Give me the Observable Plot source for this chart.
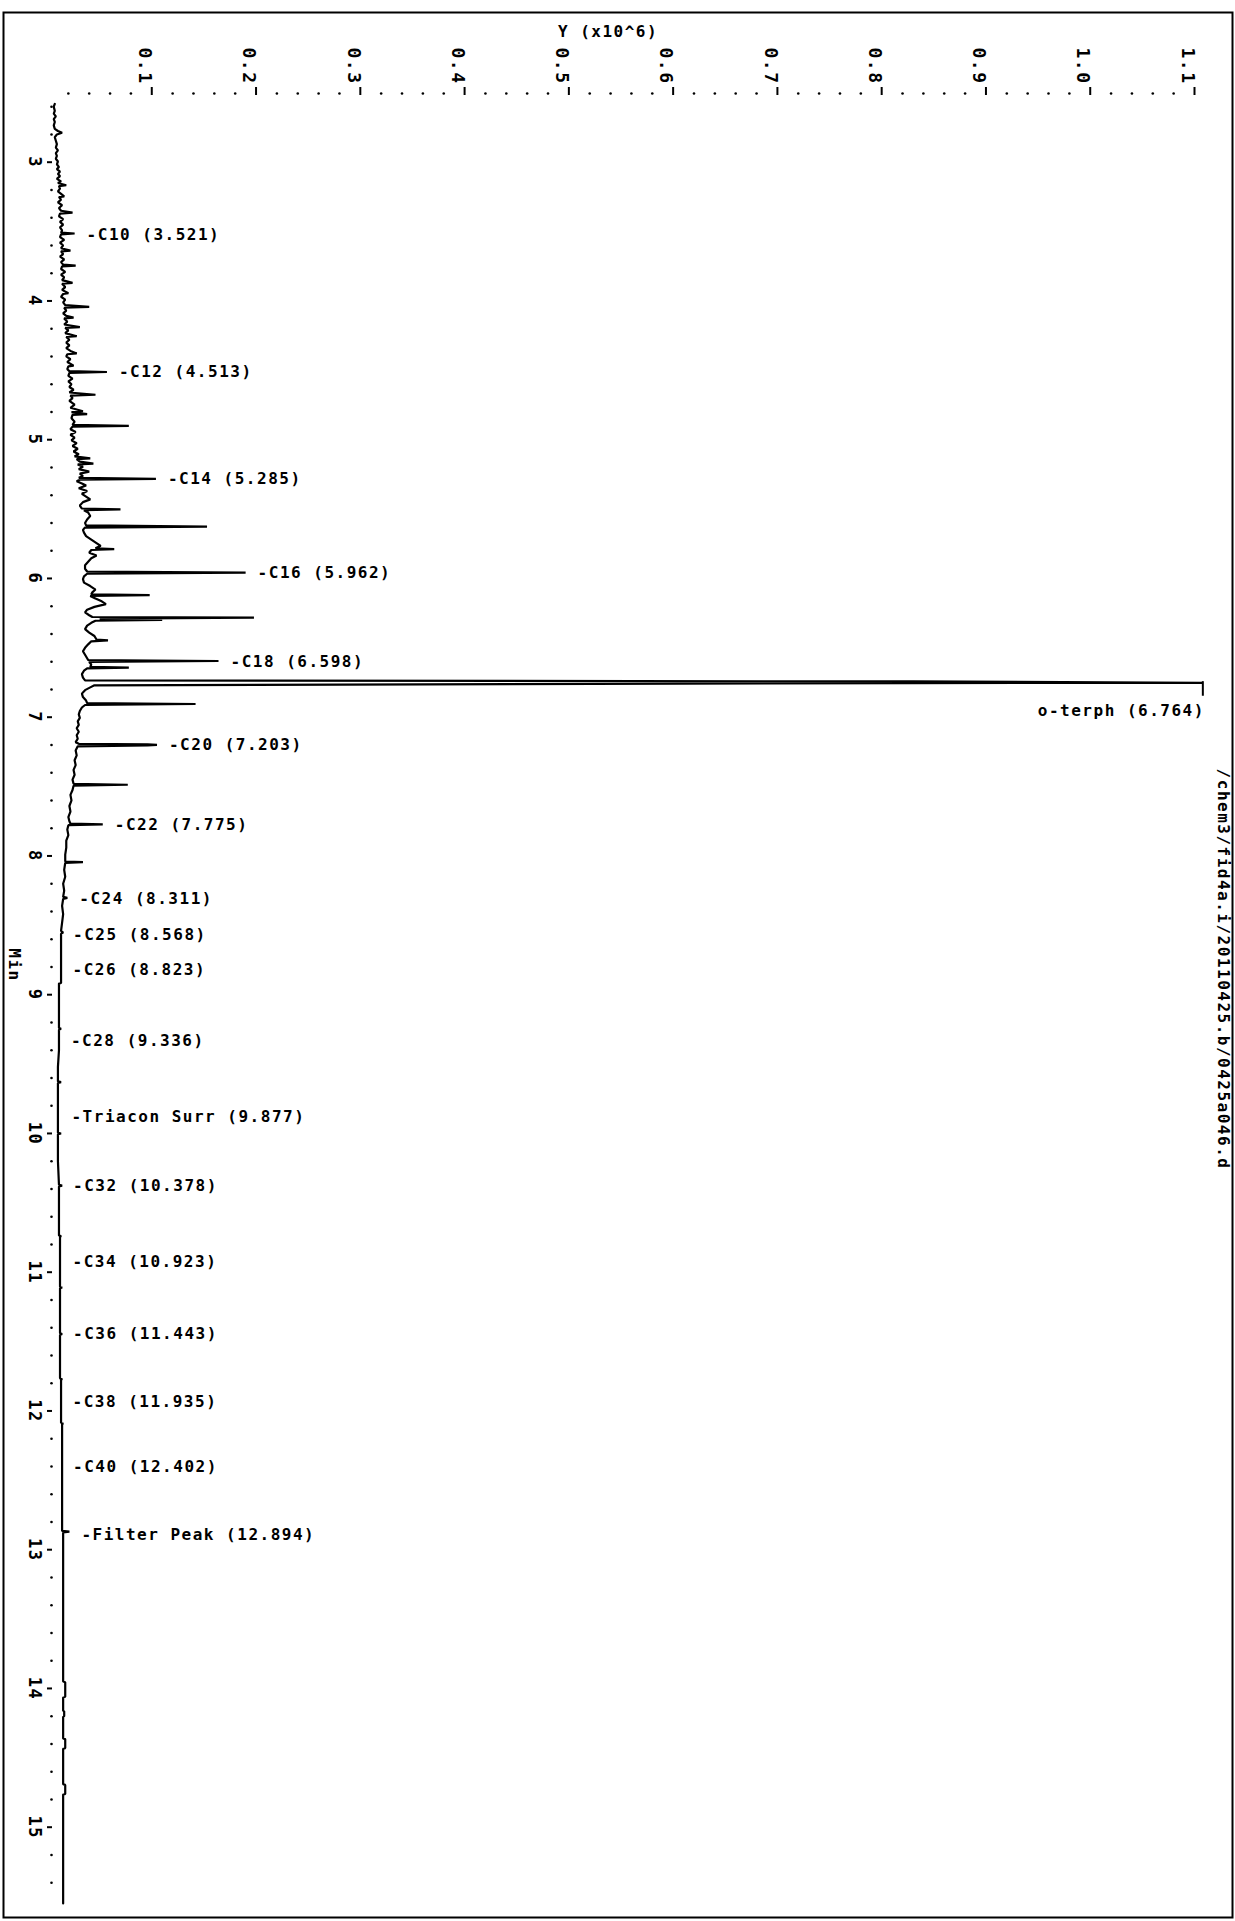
<!DOCTYPE html>
<html><head><meta charset="utf-8">
<script src="https://cdn.jsdelivr.net/npm/d3@7"></script>
<script src="https://cdn.jsdelivr.net/npm/@observablehq/plot@0.6"></script>
<style>body{margin:0;background:#fff}</style>
</head><body><div id="chart"></div>
<script>
// Chromatogram trace: [retention time (min), signal (x10^6)]
const traceEarly = [
[2.580,.007],[2.600,.006],[2.630,.007],[2.650,.006],[2.670,.008],[2.690,.006],[2.710,.007],[2.735,.006],[2.760,.007],[2.775,.010],[2.788,.014],[2.800,.009],[2.820,.007],[2.845,.008],[2.870,.009],[2.895,.008],[2.915,.010],[2.935,.008],[2.955,.009],[2.975,.008],[2.995,.010],[3.015,.009],[3.035,.011],[3.050,.009],[3.068,.012],[3.085,.010],[3.100,.012],[3.120,.009],[3.138,.013],[3.150,.010],[3.166,.018],[3.172,.011],[3.190,.012],[3.210,.010],[3.228,.013],[3.246,.016],[3.252,.011],[3.270,.013],[3.290,.010],[3.310,.014],[3.330,.011],[3.350,.013],[3.364,.024],[3.370,.012],[3.390,.011],[3.410,.015],[3.430,.012],[3.450,.015],[3.470,.012],[3.492,.014],[3.508,.013],[3.514,.026],[3.520,.013],[3.540,.012],[3.560,.016],[3.580,.012],[3.600,.015],[3.620,.013],[3.637,.022],[3.643,.013],[3.662,.015],[3.680,.012],[3.700,.016],[3.720,.013],[3.738,.015],[3.745,.027],[3.751,.014],[3.770,.013],[3.790,.017],[3.810,.013],[3.830,.016],[3.850,.014],[3.870,.024],[3.876,.014],[3.900,.017],[3.920,.014],[3.944,.020],[3.950,.015],[3.970,.013],[3.990,.017],[4.010,.015],[4.030,.017],[4.043,.040],[4.049,.016],[4.070,.018],[4.090,.015],[4.108,.018],[4.120,.025],[4.126,.016],[4.150,.019],[4.170,.016],[4.188,.031],[4.194,.017],[4.212,.020],[4.232,.017],[4.254,.028],[4.260,.018],[4.280,.021],[4.300,.018],[4.320,.021],[4.340,.018],[4.360,.022],[4.378,.028],[4.384,.019],[4.400,.018],[4.420,.022],[4.440,.019],[4.466,.025],[4.472,.020],[4.492,.019],[4.506,.021],[4.512,.057],[4.518,.021],[4.540,.020],[4.560,.024],[4.580,.020],[4.600,.023],[4.620,.021],[4.640,.025],[4.660,.021],[4.676,.046],[4.682,.022],[4.700,.024],[4.720,.021],[4.748,.026],[4.770,.022],[4.795,.034],[4.801,.023],[4.815,.038],[4.821,.024],[4.845,.023],[4.870,.026],[4.893,.024],[4.900,.078],[4.906,.024],[4.925,.022],[4.945,.027],[4.965,.022],[4.985,.026]
];
const traceMiddle = [
[5.005,.023],[5.025,.028],[5.045,.024],[5.065,.029],[5.085,.025],[5.105,.030],[5.120,.026],[5.134,.041],[5.140,.028],[5.158,.031],[5.172,.044],[5.178,.029],[5.195,.034],[5.212,.030],[5.230,.040],[5.245,.031],[5.262,.034],[5.275,.030],[5.282,.104],[5.288,.031],[5.300,.028],[5.315,.033],[5.330,.037],[5.350,.030],[5.370,.038],[5.390,.033],[5.410,.037],[5.430,.041],[5.450,.034],[5.475,.031],[5.496,.033],[5.502,.070],[5.508,.035],[5.525,.039],[5.550,.041],[5.575,.038],[5.600,.036],[5.618,.037],[5.626,.153],[5.633,.036],[5.650,.034],[5.670,.035],[5.695,.037],[5.720,.042],[5.745,.047],[5.765,.051],[5.783,.046],[5.789,.064],[5.795,.042],[5.815,.040],[5.835,.047],[5.855,.042],[5.880,.039],[5.905,.036],[5.930,.036],[5.950,.038],[5.958,.190],[5.966,.038],[5.985,.035],[6.005,.034],[6.030,.035],[6.055,.041],[6.080,.046],[6.100,.043],[6.114,.042],[6.120,.098],[6.126,.041],[6.145,.046],[6.165,.052],[6.185,.056],[6.205,.045],[6.225,.038],[6.245,.036],[6.265,.040],[6.278,.043],[6.283,.198],[6.290,.050],[6.298,.110],[6.305,.046],[6.320,.042],[6.340,.038],[6.365,.036],[6.390,.040],[6.415,.045],[6.440,.047],[6.447,.058],[6.453,.042],[6.475,.039],[6.500,.036],[6.525,.034],[6.550,.036],[6.575,.038],[6.588,.039],[6.595,.164],[6.602,.040],[6.620,.042],[6.637,.041],[6.642,.078],[6.648,.038],[6.665,.035],[6.690,.033],[6.715,.034],[6.735,.036],[6.742,.830],[6.752,1.108],[6.754,.830],[6.770,.045],[6.785,.041],[6.805,.036],[6.830,.033],[6.855,.034],[6.880,.037],[6.898,.038],[6.905,.142],[6.912,.036],[6.930,.033],[6.955,.031],[6.980,.030]
];
const traceLate = [
[7.005,.031],[7.030,.029],[7.055,.030],[7.080,.028],[7.105,.030],[7.130,.028],[7.155,.029],[7.180,.027],[7.192,.030],[7.196,.096],[7.200,.105],[7.203,.096],[7.210,.029],[7.240,.027],[7.275,.028],[7.310,.026],[7.345,.027],[7.380,.025],[7.415,.026],[7.450,.024],[7.480,.025],[7.487,.077],[7.494,.025],[7.525,.024],[7.560,.022],[7.600,.023],[7.640,.021],[7.680,.022],[7.720,.020],[7.750,.021],[7.766,.022],[7.772,.053],[7.778,.020],[7.810,.019],[7.850,.020],[7.890,.018],[7.940,.018],[7.990,.017],[8.040,.017],[8.045,.034],[8.050,.017],[8.100,.016],[8.150,.017],[8.200,.015],[8.250,.016],[8.295,.015],[8.302,.019],[8.310,.015],[8.360,.014],[8.420,.015],[8.480,.014],[8.540,.013],[8.552,.015],[8.560,.013],[8.650,.013],[8.750,.013],[8.850,.013],[8.915,.013],[8.920,.011],[9.050,.011],[9.150,.011],[9.240,.011],[9.246,.013],[9.252,.011],[9.400,.011],[9.520,.010],[9.625,.010],[9.630,.013],[9.636,.010],[9.780,.010],[9.900,.010],[9.995,.010],[10.000,.013],[10.006,.010],[10.200,.010],[10.370,.011],[10.376,.014],[10.382,.011],[10.560,.011],[10.735,.011],[10.740,.013],[10.746,.012],[10.920,.012],[11.105,.012],[11.110,.014],[11.116,.012],[11.300,.012],[11.440,.012],[11.446,.014],[11.452,.012],[11.620,.012],[11.765,.012],[11.770,.014],[11.776,.013],[11.950,.013],[12.085,.013],[12.090,.015],[12.096,.014],[12.300,.014],[12.500,.014],[12.700,.014],[12.865,.014],[12.870,.021],[12.876,.015],[13.100,.015],[13.400,.015],[13.700,.015],[13.950,.015],[13.955,.017],[14.060,.017],[14.065,.015],[14.160,.015],[14.165,.016],[14.200,.016],[14.205,.015],[14.360,.015],[14.365,.017],[14.430,.017],[14.435,.015],[14.690,.015],[14.695,.017],[14.760,.017],[14.765,.015],[15.000,.015],[15.300,.015],[15.550,.015]
];

// Peak annotations
const peakNames = ["C10","C12","C14","C16","C18","C20","C22","C24","C25","C26","C28","Triacon Surr","C32","C34","C36","C38","C40","Filter Peak"];
const peakTimes = [3.521,4.513,5.285,5.962,6.598,7.203,7.775,8.311,8.568,8.823,9.336,9.877,10.378,10.923,11.443,11.935,12.402,12.894];
const peakTips  = [0.026,0.057,0.104,0.190,0.164,0.105,0.053,0.019,0.013,0.0125,0.011,0.0115,0.013,0.0125,0.013,0.0125,0.013,0.021];

const surrName = "o-terph";
const surrTime = 6.764;
const surrTip = 1.108;

// Axes
const xTicks = [0.1,0.2,0.3,0.4,0.5,0.6,0.7,0.8,0.9,1.0,1.1];
const xTickLabels = ["0.1","0.2","0.3","0.4","0.5","0.6","0.7","0.8","0.9","1.0","1.1"];
const yTicks = [3,4,5,6,7,8,9,10,11,12,13,14,15];
const xTitle = "Y (x10^6)";
const yTitle = "Min";
const filePath = "/chem3/fid4a.i/20110425.b/0425a046.d";

const trace = [...traceEarly, ...traceMiddle, ...traceLate].map(([t, v]) => ({t, v}));
const peaks = peakNames.map((n, i) => ({name: n, time: peakTimes[i], tip: peakTips[i]}));
const surr = [{name: surrName, time: surrTime, tip: surrTip}];
const xMinor = d3.range(1, 55).map(i => i * 0.02).filter((d, i) => (i + 1) % 5 !== 0);
const yMinor = d3.range(0, 66).map(i => 2.6 + i * 0.2).filter(d => Math.abs(d - Math.round(d)) > 0.01 && d < 15.5);

const F = "'DejaVu Sans Mono', 'Liberation Mono', monospace";
const W = "bold";

const chart = Plot.plot({
  width: 1235, height: 1921,
  marginTop: 12, marginRight: 3, marginBottom: 4, marginLeft: 3,
  x: {domain: [0, 1.1], range: [47, 1194], axis: null},
  y: {domain: [3, 15], range: [161.7, 1826.7], axis: null},
  style: {fontFamily: F, fontSize: "16px", letterSpacing: "1.5px", background: "#fff", color: "#000", overflow: "visible"},
  marks: [
    Plot.frame({stroke: "#000", strokeWidth: 2}),
    // title
    Plot.text([xTitle], {frameAnchor: "top", dy: 13, dx: -10, textAnchor: "middle", fontSize: 16, fontWeight: W, fontFamily: F, fill: "#000"}),
    // top axis
    Plot.dot(xMinor, {x: d => d, frameAnchor: "top", dy: 81, r: 1.3, fill: "#000", stroke: null}),
    Plot.tickX(xTicks, {x: d => d, insetTop: 75, insetBottom: 1822, stroke: "#000", strokeWidth: 2}),
    Plot.text(xTicks, {x: d => d, text: (d, i) => xTickLabels[i], frameAnchor: "top", dy: 72, rotate: 90, textAnchor: "end", fontSize: 18, fontWeight: W, fontFamily: F, fill: "#000"}),
    // left axis
    Plot.dot(yMinor, {y: d => d, frameAnchor: "left", dx: 48, r: 1.3, fill: "#000", stroke: null}),
    Plot.tickY(yTicks, {y: d => d, insetLeft: 44, insetRight: 1180, stroke: "#000", strokeWidth: 2}),
    Plot.text(yTicks, {y: d => d, text: d => String(d), frameAnchor: "left", dx: 31, rotate: 90, textAnchor: "middle", fontSize: 17, fontWeight: W, fontFamily: F, fill: "#000"}),
    Plot.text([yTitle], {frameAnchor: "left", dx: 11, rotate: 90, textAnchor: "middle", fontSize: 16, fontWeight: W, fontFamily: F, fill: "#000"}),
    // file path on the right
    Plot.text([filePath], {frameAnchor: "right", dx: -9, dy: 4, rotate: 90, textAnchor: "middle", fontSize: 16, fontWeight: W, fontFamily: F, fill: "#000"}),
    // the trace
    Plot.line(trace, {x: "v", y: "t", stroke: "#000", strokeWidth: 2.2, strokeLinejoin: "miter"}),
    // peak labels
    Plot.text(peaks, {x: "tip", y: "time", text: d => `-${d.name} (${d.time.toFixed(3)})`, textAnchor: "start", dx: 12, fontSize: 16, fontWeight: W, fontFamily: F, fill: "#000"}),
    // surrogate peak marker and label
    Plot.ruleX(surr, {x: "tip", y1: d => d.time - 0.02, y2: d => d.time + 0.085, stroke: "#000", strokeWidth: 2}),
    Plot.text(surr, {x: "tip", y: "time", text: d => `${d.name} (${d.time.toFixed(3)})`, textAnchor: "end", dx: 2, dy: 26, fontSize: 16, fontWeight: W, fontFamily: F, fill: "#000"})
  ]
});
document.getElementById("chart").appendChild(chart);
</script>
</body></html>
